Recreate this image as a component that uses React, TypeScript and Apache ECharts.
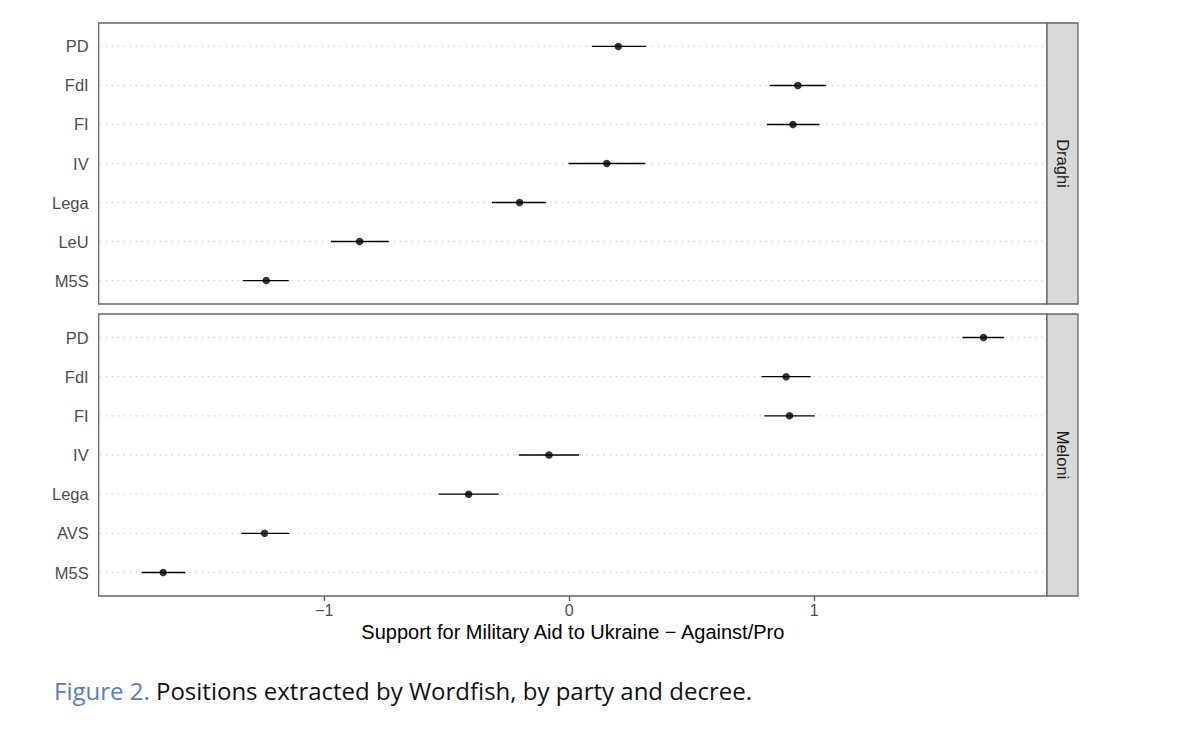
import React, { useEffect, useRef } from "react";
import * as echarts from "echarts";

// Row order from bottom (1) to top (7)
const draghiParties = ["M5S", "LeU", "Lega", "IV", "FI", "FdI", "PD"];
const draghiEst = [-1.237, -0.856, -0.203, 0.153, 0.913, 0.933, 0.2];
const draghiLo = [-1.333, -0.973, -0.316, -0.003, 0.807, 0.818, 0.092];
const draghiHi = [-1.145, -0.737, -0.094, 0.31, 1.021, 1.048, 0.313];

const meloniParties = ["M5S", "AVS", "Lega", "IV", "FI", "FdI", "PD"];
const meloniEst = [-1.658, -1.244, -0.411, -0.083, 0.899, 0.885, 1.691];
const meloniLo = [-1.745, -1.339, -0.534, -0.206, 0.796, 0.785, 1.605];
const meloniHi = [-1.567, -1.142, -0.288, 0.04, 1.002, 0.985, 1.775];

const xTicks = [-1, 0, 1];
const xMin = -1.921;
const xMax = 1.95;
const panelNames = ["Draghi", "Meloni"];
const axisTitle = "Support for Military Aid to Ukraine \u2212 Against/Pro";
const captionLabel = "Figure 2.";
const captionText = " Positions extracted by Wordfish, by party and decree.";

const FONT = "'Liberation Sans', Arial, sans-serif";

export default function App() {
  const ref = useRef<HTMLDivElement>(null);

  useEffect(() => {
    document.body.style.margin = "0";
    const chart = echarts.init(ref.current!, null, { renderer: "svg" });

    const grids = [
      { left: 98.7, top: 23, width: 948.3, height: 281 },
      { left: 98.7, top: 314, width: 948.3, height: 282 },
    ];
    const partySets = [draghiParties, meloniParties];
    const est = [draghiEst, meloniEst];
    const lo = [draghiLo, meloniLo];
    const hi = [draghiHi, meloniHi];

    const series: any[] = [];
    for (let p = 0; p < 2; p++) {
      // dotted grid lines at each category
      series.push({
        type: "custom",
        xAxisIndex: p,
        yAxisIndex: p,
        silent: true,
        z: 1,
        data: partySets[p].map((_, i) => [0, i + 1]),
        renderItem: (params: any, api: any) => {
          const cs = params.coordSys;
          const pt = api.coord([0, api.value(1)]);
          return {
            type: "line",
            shape: { x1: cs.x + 1, y1: pt[1], x2: cs.x + cs.width - 1, y2: pt[1] },
            style: { stroke: "#d4d4d4", lineWidth: 1.4, lineDash: [1.4, 4.6] },
          };
        },
      });
      // error bars
      series.push({
        type: "custom",
        xAxisIndex: p,
        yAxisIndex: p,
        silent: true,
        z: 2,
        data: partySets[p].map((_, i) => [lo[p][i], hi[p][i], i + 1]),
        renderItem: (params: any, api: any) => {
          const a = api.coord([api.value(0), api.value(2)]);
          const b = api.coord([api.value(1), api.value(2)]);
          return {
            type: "line",
            shape: { x1: a[0], y1: a[1], x2: b[0], y2: b[1] },
            style: { stroke: "#000", lineWidth: 1.4 },
          };
        },
      });
      // points
      series.push({
        type: "scatter",
        xAxisIndex: p,
        yAxisIndex: p,
        silent: true,
        z: 3,
        symbol: "circle",
        symbolSize: 7.5,
        itemStyle: { color: "#000" },
        data: partySets[p].map((_, i) => [est[p][i], i + 1]),
      });
    }

    const stripGraphics: any[] = grids.map((g, p) => ({
      type: "group",
      children: [
        {
          type: "rect",
          shape: { x: g.left + g.width, y: g.top, width: 31, height: g.height },
          style: { fill: "#d9d9d9", stroke: "#666", lineWidth: 1.3 },
        },
        {
          type: "text",
          x: g.left + g.width + 15.5,
          y: g.top + g.height / 2,
          rotation: -Math.PI / 2,
          style: {
            text: panelNames[p],
            fill: "#1a1a1a",
            font: `16.5px ${FONT}`,
            align: "center",
            verticalAlign: "middle",
          },
        },
      ],
    }));

    chart.setOption({
      animation: false,
      backgroundColor: "#fff",
      grid: grids.map((g) => ({
        ...g,
        show: true,
        borderColor: "#666",
        borderWidth: 1.3,
        backgroundColor: "#fff",
        containLabel: false,
      })),
      xAxis: [0, 1].map((p) => ({
        type: "value",
        gridIndex: p,
        min: xMin,
        max: xMax,
        axisLine: { show: false },
        splitLine: { show: false },
        axisTick: {
          show: p === 1,
          customValues: xTicks,
          length: 5,
          lineStyle: { color: "#555", width: 1.3 },
        },
        axisLabel: {
          show: p === 1,
          customValues: xTicks,
          color: "#4d4d4d",
          fontSize: 16,
          fontFamily: FONT,
          margin: 6,
          formatter: (v: number) => (v < 0 ? "\u2212" + Math.abs(v) : String(v)),
        },
        name: p === 1 ? axisTitle : "",
        nameLocation: "middle",
        nameGap: 26,
        nameTextStyle: { color: "#000", fontSize: 20, fontFamily: FONT },
      })),
      yAxis: [0, 1].map((p) => ({
        type: "value",
        gridIndex: p,
        min: 0.4,
        max: 7.6,
        axisLine: { show: false },
        splitLine: { show: false },
        axisTick: { show: false, customValues: [1, 2, 3, 4, 5, 6, 7] },
        axisLabel: {
          customValues: [1, 2, 3, 4, 5, 6, 7],
          color: "#4d4d4d",
          fontSize: 16.5,
          fontFamily: FONT,
          margin: 10,
          formatter: (v: number) => partySets[p][Math.round(v) - 1] ?? "",
        },
      })),
      series,
      graphic: [
        ...stripGraphics,
        {
          type: "text",
          x: 54,
          y: 690,
          style: {
            text: `{a|${captionLabel}}{b|${captionText}}`,
            verticalAlign: "middle",
            rich: {
              a: { fill: "#5b7bbf", font: `24px 'Open Sans', sans-serif` } as any,
              b: { fill: "#111", font: `24px 'Open Sans', sans-serif` } as any,
            },
          },
        },
      ],
    });

    return () => chart.dispose();
  }, []);

  return <div ref={ref} style={{ width: 1200, height: 733, background: "#fff" }} />;
}
